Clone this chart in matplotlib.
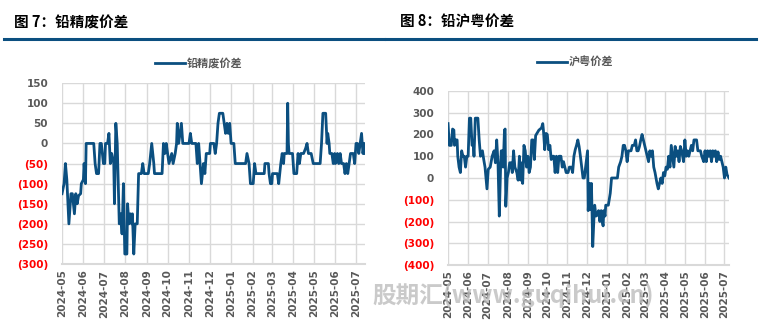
import pandas as pd
import matplotlib.pyplot as plt
import matplotlib.dates as mdates
from matplotlib.lines import Line2D

plt.rcParams['font.family'] = ['Noto Sans CJK SC', 'DejaVu Sans']

# 图7 铅精废价差
jf_dates = [
    "2024-05-01", "2024-05-04", "2024-05-06", "2024-05-08", "2024-05-11", "2024-05-14", "2024-05-16",
    "2024-05-19", "2024-05-21", "2024-05-23", "2024-05-25", "2024-05-28", "2024-05-29",
    "2024-06-01", "2024-06-02", "2024-06-04", "2024-06-05", "2024-06-16", "2024-06-18", "2024-06-20",
    "2024-06-23", "2024-06-25", "2024-06-27", "2024-06-30",
    "2024-07-02", "2024-07-03", "2024-07-06", "2024-07-08", "2024-07-10", "2024-07-12", "2024-07-15",
    "2024-07-16", "2024-07-18", "2024-07-20", "2024-07-23", "2024-07-25", "2024-07-27", "2024-07-29",
    "2024-07-31",
    "2024-08-03", "2024-08-04", "2024-08-06", "2024-08-08", "2024-08-10", "2024-08-11", "2024-08-13",
    "2024-08-15", "2024-08-18", "2024-08-20", "2024-08-24", "2024-08-26", "2024-08-28",
    "2024-09-03", "2024-09-05", "2024-09-08", "2024-09-11", "2024-09-12", "2024-09-23", "2024-09-25",
    "2024-09-27", "2024-09-29",
    "2024-10-01", "2024-10-03", "2024-10-07", "2024-10-09", "2024-10-12", "2024-10-14", "2024-10-15",
    "2024-10-17", "2024-10-19", "2024-10-21", "2024-10-23",
    "2024-11-01", "2024-11-03", "2024-11-05", "2024-11-11", "2024-11-13", "2024-11-15", "2024-11-17",
    "2024-11-19", "2024-11-22", "2024-11-24", "2024-11-26",
    "2024-12-01", "2024-12-02", "2024-12-07", "2024-12-09", "2024-12-11", "2024-12-13", "2024-12-15",
    "2024-12-20", "2024-12-22", "2024-12-24", "2024-12-26", "2024-12-28", "2024-12-30",
    "2025-01-01", "2025-01-05", "2025-01-07", "2025-01-22", "2025-01-24", "2025-01-27", "2025-01-29",
    "2025-02-02", "2025-02-04", "2025-02-06", "2025-02-18", "2025-02-19", "2025-02-24", "2025-02-25",
    "2025-02-27",
    "2025-03-01", "2025-03-02", "2025-03-09", "2025-03-11", "2025-03-14", "2025-03-16", "2025-03-18",
    "2025-03-19", "2025-03-23", "2025-03-24", "2025-03-25", "2025-03-26", "2025-03-31",
    "2025-04-02", "2025-04-06", "2025-04-08", "2025-04-10", "2025-04-12", "2025-04-16", "2025-04-19",
    "2025-04-21", "2025-04-23", "2025-04-27", "2025-04-30",
    "2025-05-10", "2025-05-12", "2025-05-14", "2025-05-18", "2025-05-20", "2025-05-21", "2025-05-23",
    "2025-05-24", "2025-05-27", "2025-05-29", "2025-05-31",
    "2025-06-01", "2025-06-04", "2025-06-06", "2025-06-08", "2025-06-10", "2025-06-13", "2025-06-15",
    "2025-06-17", "2025-06-19", "2025-06-21", "2025-06-23", "2025-06-27", "2025-06-29",
    "2025-07-01", "2025-07-03", "2025-07-05", "2025-07-07", "2025-07-09", "2025-07-11", "2025-07-13",
    "2025-07-14",
]
jf_values = [
    -125, -100, -50, -90, -200, -125, -125,
    -175, -125, -150, -130, -125, -100,
    -90, -50, -100, 0, 0, -50, -75,
    -75, 0, 0, -50,
    -50, 0, 0, 25, -50, -25, -50,
    -150, 50, 0, -200, -175, -225, -100,
    -275,
    -275, -150, -200, -175, -200, -175, -275,
    -200, -200, -75, -75, -50, -75,
    -75, -50, 0, -50, -75, -75, 0,
    -25, 0,
    -25, -50, -25, -50, -25, 0, 50,
    0, 25, 50, 0,
    0, 25, 0, 0, -50, 0, -50,
    -100, -50, -75, -25,
    -25, 0, 0, -25, 0, 50, 75,
    75, 50, 25, 50, 25, 50,
    0, 0, -50, -50, -25, -50, -100,
    -100, -50, -75, -75, -50, -50, -75,
    -100,
    -100, -75, -75, -100, -50, -25, -50,
    -25, -25, 100, 0, -25, -25,
    -75, -75, -25, -50, -25, -25, -12,
    0, -25, -25, -50,
    -50, 0, 75, 75, 0, 25, 0,
    -25, -25, -50, -25,
    -50, -25, -50, -25, -50, -50, -75,
    -50, -75, -50, -25, -25, -50,
    0, 0, -25, 0, 25, -25, 0,
    -25,
]

# 图8 铅沪粤价差
hy_dates = [
    "2024-05-01", "2024-05-03", "2024-05-06", "2024-05-08", "2024-05-10", "2024-05-11", "2024-05-13",
    "2024-05-15", "2024-05-16", "2024-05-18", "2024-05-20", "2024-05-22", "2024-05-24", "2024-05-26",
    "2024-05-28", "2024-05-30",
    "2024-06-01", "2024-06-03", "2024-06-05", "2024-06-07", "2024-06-09", "2024-06-10", "2024-06-12",
    "2024-06-16", "2024-06-18", "2024-06-20", "2024-06-23", "2024-06-25", "2024-06-27", "2024-06-30",
    "2024-07-02", "2024-07-05", "2024-07-08", "2024-07-11", "2024-07-13", "2024-07-15", "2024-07-17",
    "2024-07-19", "2024-07-21", "2024-07-22", "2024-07-24", "2024-07-25", "2024-07-27", "2024-07-28",
    "2024-07-29", "2024-07-31",
    "2024-08-02", "2024-08-04", "2024-08-06", "2024-08-08", "2024-08-10", "2024-08-12", "2024-08-15",
    "2024-08-17", "2024-08-19", "2024-08-21", "2024-08-23", "2024-08-24", "2024-08-26", "2024-08-28",
    "2024-08-30",
    "2024-09-01", "2024-09-03", "2024-09-05", "2024-09-07", "2024-09-09", "2024-09-11", "2024-09-13",
    "2024-09-15", "2024-09-18", "2024-09-22", "2024-09-24", "2024-09-25", "2024-09-27", "2024-09-29",
    "2024-10-01", "2024-10-03", "2024-10-05", "2024-10-07", "2024-10-09", "2024-10-11", "2024-10-13",
    "2024-10-15", "2024-10-17", "2024-10-19", "2024-10-22", "2024-10-24", "2024-10-26", "2024-10-30",
    "2024-11-02", "2024-11-04", "2024-11-07", "2024-11-09", "2024-11-11", "2024-11-13", "2024-11-15",
    "2024-11-17", "2024-11-19", "2024-11-21", "2024-11-23", "2024-11-25", "2024-11-27", "2024-11-29",
    "2024-12-02", "2024-12-03", "2024-12-05", "2024-12-06", "2024-12-08", "2024-12-10", "2024-12-12",
    "2024-12-13", "2024-12-15", "2024-12-17", "2024-12-19", "2024-12-21", "2024-12-23", "2024-12-24",
    "2024-12-26", "2024-12-27", "2024-12-29", "2024-12-30",
    "2025-01-03", "2025-01-06", "2025-01-08", "2025-01-17", "2025-01-19", "2025-01-22", "2025-01-24",
    "2025-01-26", "2025-01-28", "2025-01-30",
    "2025-02-01", "2025-02-03", "2025-02-07", "2025-02-09", "2025-02-12", "2025-02-14", "2025-02-16",
    "2025-02-18", "2025-02-20", "2025-02-22", "2025-02-24", "2025-02-26", "2025-02-28",
    "2025-03-02", "2025-03-04", "2025-03-06", "2025-03-08", "2025-03-10", "2025-03-12", "2025-03-14",
    "2025-03-16", "2025-03-19", "2025-03-21", "2025-03-23", "2025-03-25", "2025-03-27", "2025-03-29",
    "2025-03-31",
    "2025-04-02", "2025-04-04", "2025-04-06", "2025-04-08", "2025-04-10", "2025-04-12", "2025-04-14",
    "2025-04-16", "2025-04-18", "2025-04-20", "2025-04-22", "2025-04-24", "2025-04-26", "2025-04-29",
    "2025-05-01", "2025-05-03", "2025-05-05", "2025-05-07", "2025-05-09", "2025-05-11", "2025-05-13",
    "2025-05-15", "2025-05-19", "2025-05-21", "2025-05-25", "2025-05-27", "2025-05-30",
    "2025-06-01", "2025-06-03", "2025-06-05", "2025-06-07", "2025-06-09", "2025-06-11", "2025-06-13",
    "2025-06-15", "2025-06-17", "2025-06-19", "2025-06-21", "2025-06-23", "2025-06-25", "2025-06-27",
    "2025-06-29",
    "2025-07-01", "2025-07-03", "2025-07-05", "2025-07-08",
]
hy_values = [
    250, 150, 150, 225, 220, 150, 175,
    175, 100, 50, 25, 125, 100, 100,
    50, 100,
    100, 275, 275, 150, 150, 100, 275,
    275, 175, 100, 125, 85, 50, -50,
    40, 50, 100, 125, 70, 175, 70,
    -175, 50, 125, 125, 50, 220, 225,
    -130, 0,
    25, 70, 70, 25, 125, 50, 25,
    -10, 100, -10, 70, -25, 150, 125,
    50,
    100, 25, 50, 175, 175, 85, 195,
    205, 220, 230, 250, 220, 130, 205,
    200, 130, 150, 85, 100, 100, 25,
    100, 25, 100, 100, 50, 75, 25,
    25, 50, 50, 25, 100, 130, 150,
    175, 145, 100, 50, 0, 0, 50,
    125, -150, -25, -145, -25, -315, -175,
    -125, -175, -170, -150, -200, -150, -190,
    -220, -150, -175, -125,
    -125, -70, 0, 0, 50, 75, 100,
    150, 150, 125,
    75, 125, 125, 150, 150, 175, 125,
    125, 145, 175, 200, 175, 150,
    125, 100, 75, 125, 100, 125, 50,
    25, -25, -50, -25, 0, -25, 25,
    10,
    50, 40, 100, 50, 150, 100, 50,
    145, 100, 125, 75, 145, 125, 75,
    175, 100, 125, 100, 125, 150, 125,
    175, 175, 125, 125, 100, 75,
    125, 75, 125, 100, 125, 75, 125,
    100, 125, 75, 120, 85, 100, 75,
    50,
    0, 50, 15, 0,
]

months = pd.date_range("2024-05-01", "2025-07-01", freq="MS")
jf_yticks = [150, 100, 50, 0, -50, -100, -150, -200, -250, -300]
hy_yticks = [400, 300, 200, 100, 0, -100, -200, -300, -400]

line_color = '#0b4f80'
grey_text = '#595959'
grid_color = '#d9d9d9'


def fmt(v):
    return f"({-v})" if v < 0 else f"{v}"


def draw_panel(fig, ax, dates, values, yticks, xend, name, legend_xy):
    ax.plot(pd.to_datetime(dates), values, color=line_color, linewidth=2.0, zorder=3)
    ax.set_xlim(pd.Timestamp("2024-05-01"), pd.Timestamp(xend))
    ax.set_ylim(min(yticks), max(yticks))
    ax.set_xticks(months)
    ax.xaxis.set_major_formatter(mdates.DateFormatter('%Y-%m'))
    ax.set_yticks(yticks)
    ax.set_yticklabels([fmt(v) for v in yticks])
    for lab, v in zip(ax.get_yticklabels(), yticks):
        lab.set_color('#ff0000' if v < 0 else grey_text)
        lab.set_fontweight('bold')
        lab.set_family(['DejaVu Sans'])
    for lab in ax.get_xticklabels():
        lab.set_rotation(90)
        lab.set_color(grey_text)
        lab.set_fontweight('bold')
        lab.set_family(['DejaVu Sans'])
    ax.tick_params(axis='both', length=0, labelsize=7.5)
    ax.tick_params(axis='x', pad=4)
    ax.tick_params(axis='y', pad=10)
    ax.grid(True, color=grid_color, linewidth=1.0)
    ax.set_axisbelow(True)
    for s in ['top', 'right', 'left']:
        ax.spines[s].set_visible(False)
    ax.spines['bottom'].set_color(grid_color)
    ax.spines['bottom'].set_linewidth(1.5)
    fig.legend([Line2D([0], [0], color=line_color, linewidth=2)], [name],
               loc='center', bbox_to_anchor=legend_xy, bbox_transform=fig.transFigure,
               frameon=False, prop={'size': 8, 'weight': 'bold'}, handlelength=2.7,
               handletextpad=0.2, labelcolor=grey_text, borderpad=0)


fig = plt.figure(figsize=(7.73, 3.26), dpi=100)

ax1 = fig.add_axes([0.0802, 0.190, 0.392, 0.555])
draw_panel(fig, ax1, jf_dates, jf_values, jf_yticks, "2025-07-14", '铅精废价差',
           (199 / 773, 1 - 63 / 326))

ax2 = fig.add_axes([0.5796, 0.187, 0.3635, 0.534])
draw_panel(fig, ax2, hy_dates, hy_values, hy_yticks, "2025-07-08", '沪粤价差',
           (575 / 773, 1 - 62 / 326))

# headers and blue rules
fig.text(14 / 773, 1 - 22 / 326, '图 7：铅精废价差', fontsize=10.5, fontweight='bold', va='center')
fig.text(400 / 773, 1 - 22 / 326, '图 8：铅沪粤价差', fontsize=10.5, fontweight='bold', va='center')
fig.add_artist(Line2D([4 / 773, 384 / 773], [1 - 38.5 / 326] * 2, color=line_color, linewidth=2.2))
fig.add_artist(Line2D([386 / 773, 756 / 773], [1 - 38.5 / 326] * 2, color=line_color, linewidth=2.2))

# watermark
fig.text(372 / 773, 1 - 295 / 326, '股期汇(www.guqihui.cn)', fontsize=17, fontweight='bold',
         style='italic', color='#bdbdbd', alpha=0.8, va='center', zorder=10)

fig.savefig('out.png', dpi=100)
